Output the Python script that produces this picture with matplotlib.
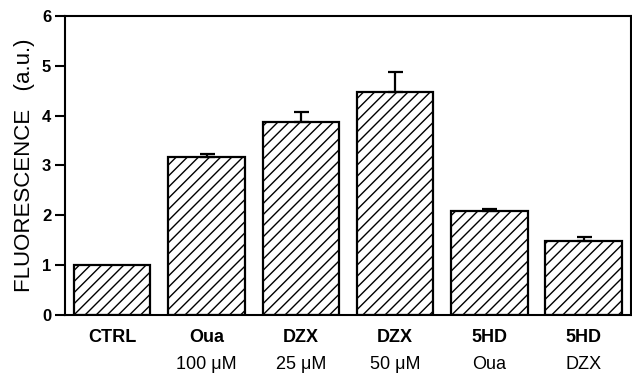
import matplotlib
matplotlib.use("Agg")
import matplotlib.pyplot as plt
import matplotlib.transforms as mtransforms

categories = ["CTRL", "Oua", "DZX", "DZX", "5HD", "5HD"]
sublabels = ["", "100 \u03bcM", "25 \u03bcM", "50 \u03bcM", "Oua", "DZX"]
values = [1.0, 3.18, 3.88, 4.47, 2.08, 1.48]
errors = [0.0, 0.05, 0.2, 0.4, 0.05, 0.08]
yticks = [0, 1, 2, 3, 4, 5, 6]

plt.rcParams['font.family'] = ['Liberation Sans', 'DejaVu Sans']
plt.rcParams['hatch.linewidth'] = 1.0

fig = plt.figure(figsize=(6.32, 3.74), dpi=100)
ax = fig.add_axes([0.103, 0.158, 0.895, 0.799])

x = list(range(len(categories)))
ax.bar(x, values, width=0.81, color='white', edgecolor='black', linewidth=1.6,
       hatch='///', zorder=2)
ex = [i for i in x if errors[i] > 0]
ax.errorbar(ex, [values[i] for i in ex],
            yerr=[[0]*len(ex), [errors[i] for i in ex]], fmt='none', ecolor='black',
            elinewidth=1.6, capsize=5.4, capthick=1.6, zorder=3)

ax.set_xlim(-0.5, 5.5)
ax.set_ylim(0, 6)
ax.set_yticks(yticks)
ax.set_yticklabels([str(t) for t in yticks], fontweight='bold', fontsize=12)
ax.tick_params(axis='y', direction='out', length=7, width=1.5, pad=3)
ax.set_xticks([])
for s in ax.spines.values():
    s.set_linewidth(1.5)

trans = mtransforms.blended_transform_factory(ax.transData, ax.transAxes)
for i, (c, s) in enumerate(zip(categories, sublabels)):
    ax.text(i, -0.074, c, transform=trans, ha='center', va='center',
            fontweight='bold', fontsize=13)
    if s:
        ax.text(i, -0.165, s, transform=trans, ha='center', va='center',
                fontsize=13)

ax.set_ylabel("FLUORESCENCE   (a.u.)", fontsize=16, labelpad=5)

fig.savefig("out.png", dpi=100)
